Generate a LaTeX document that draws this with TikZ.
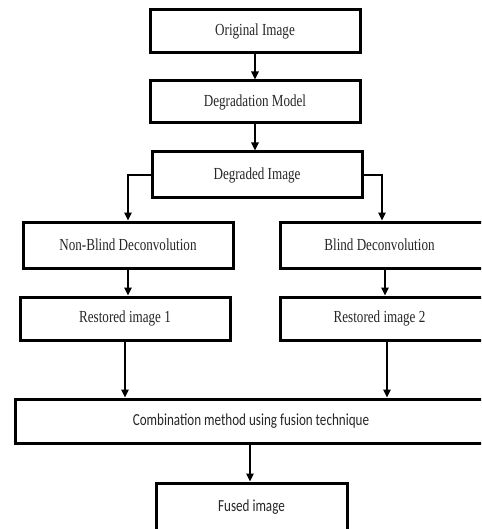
\documentclass[tikz,border=0pt]{standalone}
\usepackage{fontspec}
\setmainfont{Liberation Serif}
\newfontfamily\calfont{Carlito}
\usetikzlibrary{arrows.meta}
\newcommand{\tall}[1]{\scalebox{0.97}[1.25]{#1}}
\begin{document}
\begin{tikzpicture}[x=1pt,y=-1pt,
  box/.style={draw=black,line width=3pt,rectangle,inner sep=0pt,text=black!85,
    font=\fontsize{13.5}{15}\selectfont},
  cbox/.style={box,font=\calfont\fontsize{13.5}{15}\selectfont},
  arr/.style={line width=1.6pt,-{Triangle[length=8pt,width=7.5pt]}}]
\useasboundingbox (0,0) rectangle (481,529);
\clip (0,0) rectangle (481,529);
\node[box,minimum width=210pt,minimum height=43pt] (orig) at (255,31.5) {\tall{Original Image}};
\node[box,minimum width=210pt,minimum height=42pt] (model) at (255,102) {\tall{Degradation Model}};
\node[box,minimum width=210pt,minimum height=46pt] (degr) at (257,175) {\tall{Degraded Image}};
\node[box,minimum width=210pt,minimum height=46pt] (nb) at (128,245) {\tall{Non-Blind Deconvolution}};
\node[box,minimum width=207pt,minimum height=46pt] (bl) at (383.5,245) {\hspace*{-8pt}\tall{Blind Deconvolution}};
\node[box,minimum width=210pt,minimum height=43pt] (r1) at (125,318.5) {\tall{Restored image 1}};
\node[box,minimum width=207pt,minimum height=43pt] (r2) at (383.5,318.5) {\hspace*{-8pt}\tall{Restored image 2}};
\node[cbox,minimum width=472pt,minimum height=44pt] (comb) at (251,421) {\tall{Combination method using fusion technique}};
\node[cbox,minimum width=191pt,minimum height=52pt] (fused) at (251.5,509) {\raisebox{6pt}{\tall{Fused image}}};
\draw[arr] (orig.south) -- (orig.south |- model.north);
\draw[arr] (model.south) -- (model.south |- degr.north);
\draw[arr] (degr.west) -| (nb.north);
\draw[arr] ([xshift=-1pt]degr.east) -| ([xshift=-1.5pt]bl.north);
\draw[arr] (nb.south) -- (nb.south |- r1.north);
\draw[arr] ([xshift=1.5pt]bl.south) -- ([xshift=1.5pt]bl.south |- r2.north);
\draw[arr] (r1.south) -- (r1.south |- comb.north);
\draw[arr] ([xshift=3.5pt]r2.south) -- ([xshift=3.5pt]r2.south |- comb.north);
\draw[arr] ([xshift=-1pt]comb.south) -- ([xshift=-1pt]comb.south |- fused.north);
\end{tikzpicture}
\end{document}
